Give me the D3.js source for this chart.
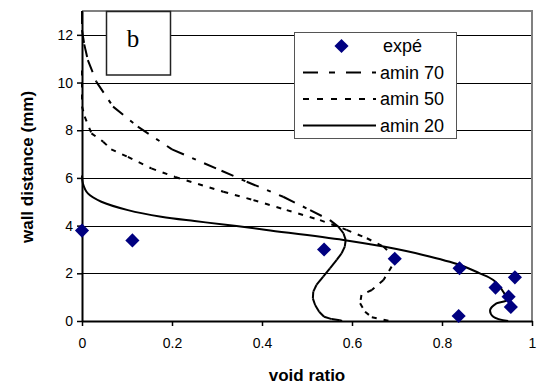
<!DOCTYPE html>
<html>
<head>
<meta charset="utf-8">
<script src="https://cdn.jsdelivr.net/npm/d3@7"></script>
<style>
  body { margin: 0; background: #fff; }
  svg { display: block; font-family: "Liberation Sans", Arial, sans-serif; }
</style>
</head>
<body>
<div id="chart"></div>
<script>
// data: [void ratio, wall distance (mm)]
const expe = [[0, 3.79], [0.112, 3.38], [0.538, 3.0], [0.695, 2.61], [0.839, 2.21],
  [0.962, 1.83], [0.919, 1.40], [0.948, 1.02], [0.953, 0.59], [0.837, 0.21]];

const amin70 = [[0, 13], [0, 12.2], [0.005, 11.6], [0.013, 10.94], [0.032, 10.03],
  [0.069, 8.99], [0.124, 8.15], [0.2, 7.2], [0.31, 6.3], [0.366, 5.84], [0.447, 5.21],
  [0.507, 4.65], [0.551, 4.23], [0.570, 3.95], [0.581, 3.68], [0.586, 3.40],
  [0.584, 3.12], [0.577, 2.84], [0.566, 2.56], [0.551, 2.21], [0.536, 1.86],
  [0.521, 1.51], [0.514, 1.23], [0.513, 0.95], [0.518, 0.67], [0.527, 0.39],
  [0.538, 0.18], [0.555, 0.08], [0.573, 0.03], [0.578, 0]];

const amin50 = [[0, 10.5], [0, 9.0], [0.006, 8.57], [0.021, 7.87], [0.047, 7.52],
  [0.065, 7.2], [0.102, 6.88], [0.154, 6.4], [0.207, 6.04], [0.314, 5.42],
  [0.381, 5.07], [0.455, 4.65], [0.529, 4.23], [0.588, 3.82], [0.633, 3.47],
  [0.67, 3.12], [0.692, 2.70], [0.688, 2.28], [0.670, 1.72], [0.644, 1.30],
  [0.621, 1.09], [0.618, 0.74], [0.629, 0.39], [0.644, 0.16], [0.684, 0]];

const amin20 = [[0, 6.1], [0.002, 5.77], [0.013, 5.35], [0.043, 5.0], [0.102, 4.65],
  [0.176, 4.37], [0.25, 4.19], [0.324, 4.03], [0.41, 3.82], [0.581, 3.40],
  [0.67, 3.12], [0.758, 2.77], [0.84, 2.35], [0.884, 2.0], [0.914, 1.72],
  [0.936, 1.23], [0.944, 0.88], [0.921, 0.74], [0.907, 0.46], [0.914, 0.18], [0.947, 0]];

const xTicks = [0, 0.2, 0.4, 0.6, 0.8, 1];
const yTicks = [0, 2, 4, 6, 8, 10, 12];
const legendLabels = ["expé", "amin 70", "amin 50", "amin 20"];

const WIDTH = 538, HEIGHT = 385;
const PLOT = {left: 82, right: 532, top: 11, bottom: 321};

const svg = d3.select("#chart").append("svg")
  .attr("width", WIDTH).attr("height", HEIGHT);

const x = d3.scaleLinear().domain([0, 1]).range([PLOT.left, PLOT.right]);
const y = d3.scaleLinear().domain([0, 13]).range([PLOT.bottom, PLOT.top]);

// gridlines
svg.append("g").selectAll("line")
  .data(yTicks.filter(d => d > 0))
  .join("line")
    .attr("x1", PLOT.left).attr("x2", PLOT.right)
    .attr("y1", d => Math.round(y(d)) + 0.5).attr("y2", d => Math.round(y(d)) + 0.5)
    .attr("stroke", "#000").attr("stroke-width", 1);

// gray frame top and right
svg.append("path")
  .attr("d", `M${PLOT.left},${PLOT.top}H${PLOT.right}V${PLOT.bottom}`)
  .attr("fill", "none").attr("stroke", "#808080").attr("stroke-width", 2);

// axes
const xAxis = svg.append("g")
  .attr("transform", `translate(0,${PLOT.bottom})`)
  .call(d3.axisBottom(x).tickValues(xTicks).tickSize(5).tickSizeOuter(0)
    .tickFormat(d => d3.format("")(d)));
const yAxis = svg.append("g")
  .attr("transform", `translate(${PLOT.left},0)`)
  .call(d3.axisLeft(y).tickValues(yTicks).tickSize(5).tickSizeOuter(0));

[xAxis, yAxis].forEach(g => {
  g.select(".domain").attr("stroke", "#000").attr("stroke-width", 2);
  g.selectAll(".tick line").attr("stroke", "#000").attr("stroke-width", 1.5);
  g.selectAll("text").attr("fill", "#000")
    .style("font-family", "'Liberation Sans', Arial, sans-serif").style("font-size", "14px");
});
xAxis.selectAll("text").attr("y", 14).attr("dy", "0.9em");
yAxis.selectAll("text").attr("x", -9);

// dashed curves: each segment drawn on its own, so the dash pattern restarts (as in the original)
const line = d3.line().x(d => x(d[0])).y(d => y(d[1]));
const series = [
  {data: amin70, dash: "13,9,4,9"},
  {data: amin50, dash: "5,7"},
  {data: amin20, dash: null}
];
series.forEach(s => {
  if (s.dash) {
    svg.append("g").selectAll("path")
      .data(d3.pairs(s.data))
      .join("path")
        .attr("d", line)
        .attr("fill", "none")
        .attr("stroke", "#000")
        .attr("stroke-width", 2)
        .attr("stroke-dasharray", s.dash);
  } else {
    svg.append("path")
      .datum(s.data)
      .attr("d", line.curve(d3.curveCatmullRom.alpha(0.5)))
      .attr("fill", "none")
      .attr("stroke", "#000")
      .attr("stroke-width", 2);
    line.curve(d3.curveLinear);
  }
});

// experimental points
const diamond = d3.symbol(d3.symbolSquare, 100);
svg.append("g").selectAll("path")
  .data(expe)
  .join("path")
    .attr("d", diamond)
    .attr("transform", d => `translate(${x(d[0])},${y(d[1])}) rotate(45)`)
    .attr("fill", "#000080");

// "b" box
svg.append("rect")
  .attr("x", 106.5).attr("y", 11.5).attr("width", 64).attr("height", 63.5)
  .attr("fill", "#fff").attr("stroke", "#222").attr("stroke-width", 1.5);
svg.append("text")
  .attr("x", 133).attr("y", 47)
  .attr("text-anchor", "middle")
  .style("font-family", "'Liberation Serif', 'Times New Roman', serif")
  .style("font-size", "25px")
  .text("b");

// legend
const legend = svg.append("g");
legend.append("rect")
  .attr("x", 294.5).attr("y", 32.5).attr("width", 162).attr("height", 106)
  .attr("fill", "#fff").attr("stroke", "#555").attr("stroke-width", 1);
const rowY = [46, 72.5, 99, 125.5];
legend.append("path")
  .attr("d", d3.symbol(d3.symbolSquare, 100))
  .attr("transform", `translate(341.5,${rowY[0]}) rotate(45)`)
  .attr("fill", "#000080");
series.forEach((s, i) => {
  legend.append("line")
    .attr("x1", 303).attr("x2", 376)
    .attr("y1", rowY[i + 1]).attr("y2", rowY[i + 1])
    .attr("stroke", "#000").attr("stroke-width", 2.2)
    .attr("stroke-dasharray", i === 0 ? "15,11,6,11" : s.dash ? "6,8" : null);
});
legend.selectAll("text")
  .data(legendLabels)
  .join("text")
    .attr("x", (d, i) => i === 0 ? 383 : 380)
    .attr("y", (d, i) => rowY[i])
    .attr("dy", "0.35em")
    .style("font-size", "18px")
    .text(d => d);

// axis titles
svg.append("text")
  .attr("x", (PLOT.left + PLOT.right) / 2).attr("y", 381)
  .attr("text-anchor", "middle")
  .style("font-size", "17px").style("font-weight", "bold")
  .text("void ratio");
svg.append("text")
  .attr("transform", "translate(33,167) rotate(-90)")
  .attr("text-anchor", "middle")
  .style("font-size", "17px").style("font-weight", "bold")
  .text("wall distance (mm)");
</script>
</body>
</html>
